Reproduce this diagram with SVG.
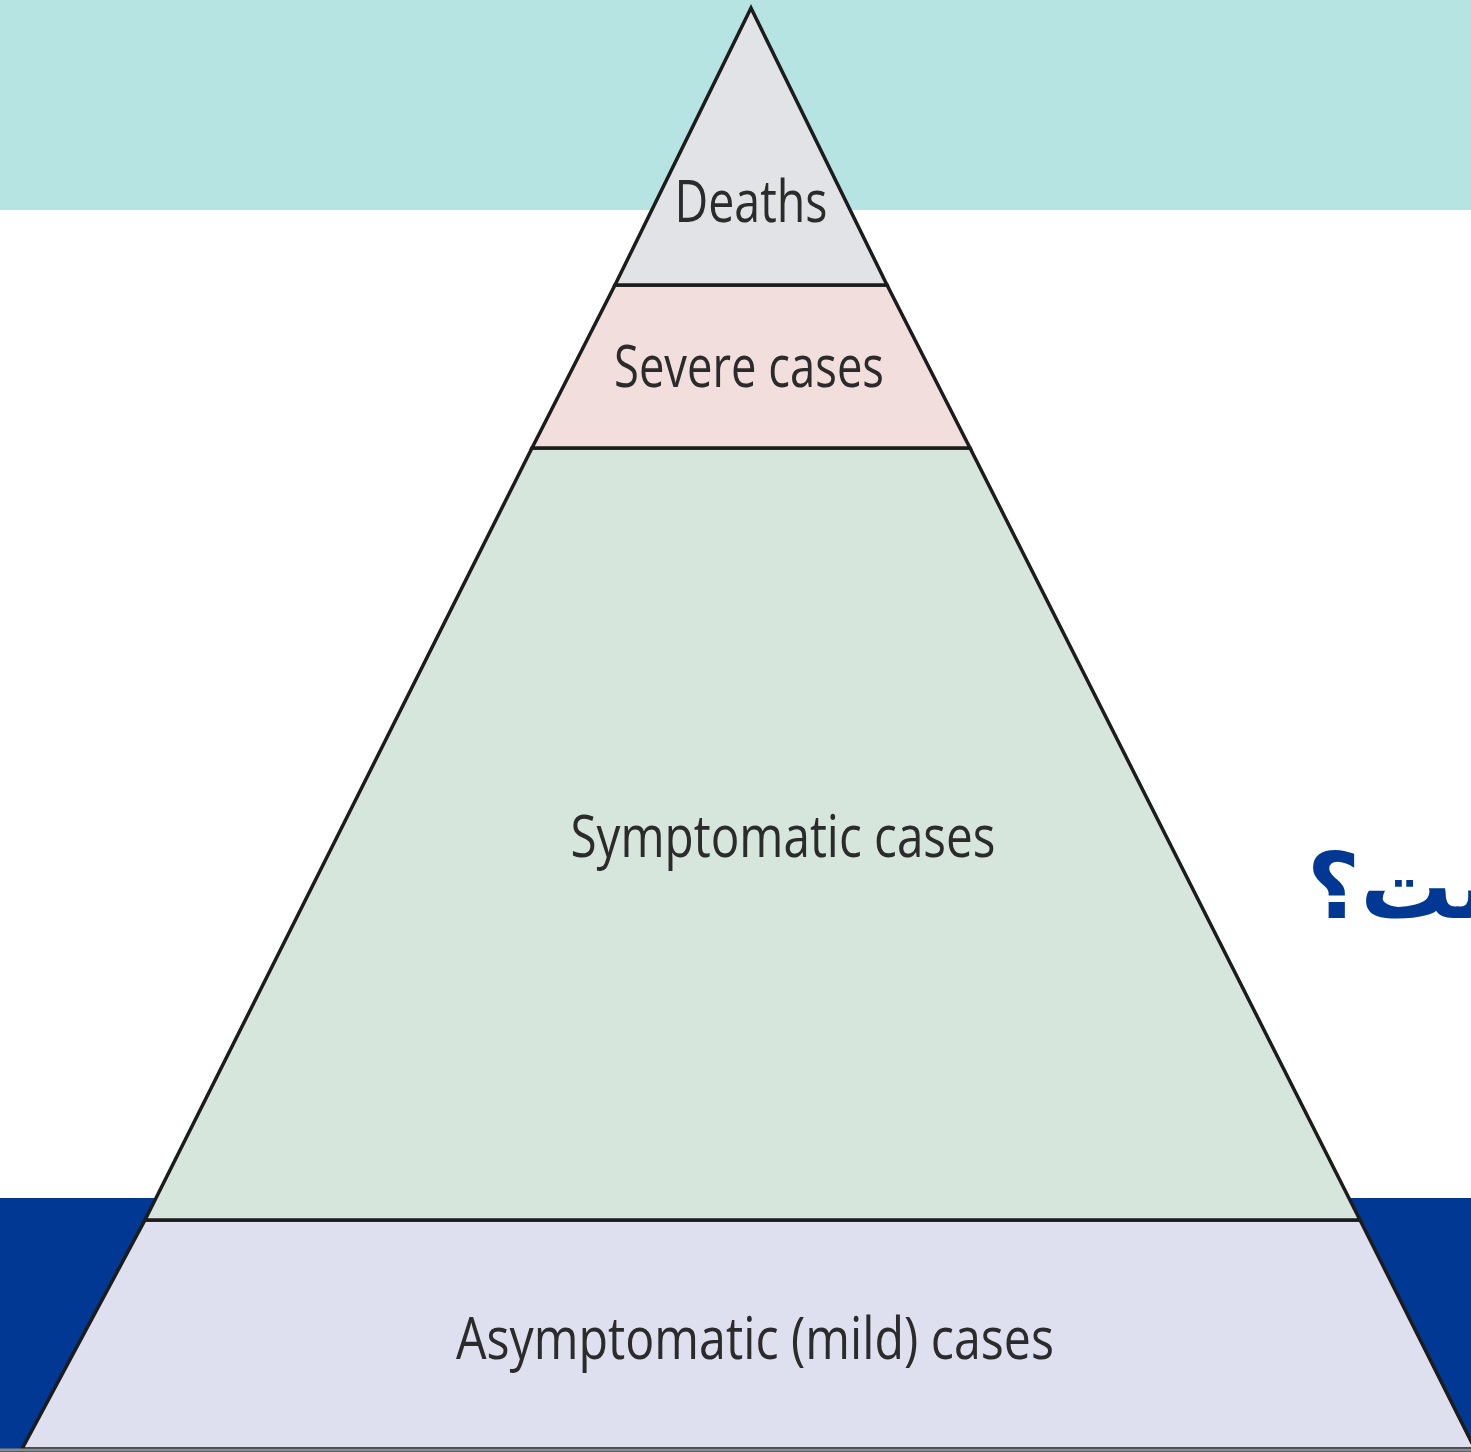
<svg xmlns="http://www.w3.org/2000/svg" width="1471" height="1452" viewBox="0 0 1471 1452">
<style>
.lbl{font-family:"Open Sans","Liberation Sans",sans-serif;fill:#2b2b2b;text-anchor:middle;font-size:58px}
.tier{stroke:#1c1c1c;stroke-width:3.5;stroke-linejoin:miter}
</style>
<rect x="0" y="0" width="1471" height="1452" fill="#ffffff"/>
<rect x="0" y="0" width="1471" height="210" fill="#b5e4e3"/>
<rect x="0" y="1198" width="1471" height="254" fill="#003893"/>
<text x="1548" y="918" font-family="'DejaVu Sans',sans-serif" font-weight="bold" font-size="92" fill="#003893" text-anchor="end">ست؟</text>
<g id="asymptomatic">
<polygon class="tier" points="145,1220 1360,1220 1475,1449 22,1449" fill="#dfe0ef"/>
<text class="lbl" x="755" y="1359" textLength="598" lengthAdjust="spacingAndGlyphs">Asymptomatic (mild) cases</text>
</g>
<g id="symptomatic">
<polygon class="tier" points="532,448 970,448 1360,1220 145,1220" fill="#d6e6dc"/>
<text class="lbl" x="783" y="857" textLength="425" lengthAdjust="spacingAndGlyphs">Symptomatic cases</text>
</g>
<g id="severe">
<polygon class="tier" points="615,285 887,285 970,448 532,448" fill="#f2dedd"/>
<text class="lbl" x="749" y="387" textLength="270" lengthAdjust="spacingAndGlyphs">Severe cases</text>
</g>
<g id="deaths">
<polygon class="tier" points="751,8 887,285 615,285" fill="#e1e3e6"/>
<text class="lbl" x="751" y="222" textLength="153" lengthAdjust="spacingAndGlyphs">Deaths</text>
</g>
<line x1="0" y1="1450" x2="1471" y2="1450" stroke="#8a8a8a" stroke-width="3"/>
</svg>
